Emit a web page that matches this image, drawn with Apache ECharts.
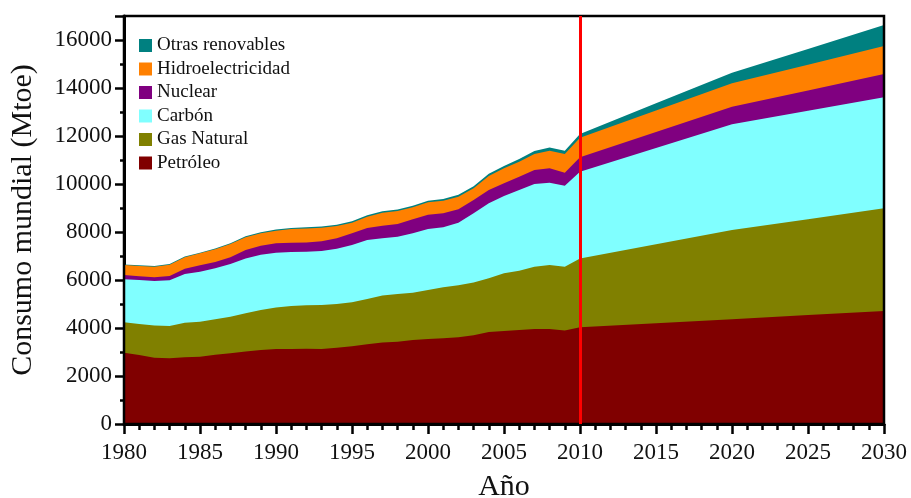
<!DOCTYPE html>
<html lang="es">
<head>
    <meta charset="UTF-8" />
    <title>Consumo mundial de energía</title>
</head>
<body style="margin:0">
<div id="main" style="width:911px;height:498px"></div>
<script src="https://cdn.jsdelivr.net/npm/echarts@6/dist/echarts.min.js"></script>
<script>
  // años (histórico anual + proyección cada 5 años)
  var anios = [1980, 1981, 1982, 1983, 1984, 1985, 1986, 1987, 1988, 1989,
    1990, 1991, 1992, 1993, 1994, 1995, 1996, 1997, 1998, 1999,
    2000, 2001, 2002, 2003, 2004, 2005, 2006, 2007, 2008, 2009,
    2010, 2015, 2020, 2025, 2030];

  // Mtoe
  var petroleo = [2970, 2875, 2765, 2740, 2780, 2805, 2890, 2945, 3025, 3080,
    3125, 3125, 3140, 3125, 3180, 3235, 3320, 3400, 3430, 3500,
    3540, 3570, 3610, 3695, 3830, 3875, 3915, 3960, 3960, 3900,
    4030, 4195, 4360, 4540, 4710];
  var gasNatural = [1270, 1290, 1335, 1345, 1440, 1460, 1470, 1525, 1585, 1670,
    1725, 1790, 1805, 1835, 1820, 1835, 1890, 1950, 1985, 1970,
    2045, 2125, 2170, 2205, 2240, 2405, 2475, 2590, 2660, 2655,
    2870, 3290, 3720, 3990, 4275];
  var carbon = [1790, 1835, 1860, 1900, 2030, 2080, 2125, 2195, 2290, 2305,
    2290, 2250, 2235, 2250, 2305, 2390, 2455, 2385, 2390, 2475,
    2540, 2500, 2610, 2880, 3125, 3220, 3360, 3450, 3435, 3375,
    3615, 4015, 4405, 4520, 4625];
  var nuclear = [180, 155, 150, 180, 220, 265, 265, 280, 350, 375,
    390, 390, 385, 400, 430, 485, 500, 530, 530, 585,
    595, 585, 555, 555, 555, 530, 555, 585, 600, 540,
    595, 665, 735, 850, 975];
  var hidro = [415, 430, 445, 475, 475, 500, 530, 555, 530, 515,
    525, 570, 585, 570, 515, 445, 475, 540, 540, 500,
    515, 525, 525, 485, 585, 625, 625, 665, 735, 780,
    820, 895, 975, 1070, 1165];
  var otras = [25, 25, 25, 30, 30, 30, 35, 35, 40, 40,
    45, 45, 45, 50, 50, 55, 55, 60, 60, 65,
    70, 75, 80, 85, 95, 100, 110, 120, 130, 140,
    155, 300, 445, 660, 875];

  var nombres = ["Petróleo", "Gas Natural", "Carbón", "Nuclear", "Hidroelectricidad", "Otras renovables"];
  var colores = ["#800000", "#808000", "#80ffff", "#800080", "#ff8000", "#008080"];
  var valores = [petroleo, gasNatural, carbon, nuclear, hidro, otras];

  var fuente = "Liberation Serif";
  var myChart = echarts.init(document.getElementById("main"));

  // apilado a mano: cada serie se dibuja hasta su total acumulado,
  // las de abajo encima de las de arriba
  var acumulado = anios.map(function () { return 0; });
  var series = nombres.map(function (n, i) {
    acumulado = acumulado.map(function (v, j) { return v + valores[i][j]; });
    return {
      name: n,
      type: "line",
      showSymbol: false,
      lineStyle: { width: 0 },
      areaStyle: { color: colores[i], opacity: 1 },
      itemStyle: { color: colores[i] },
      data: anios.map(function (a, j) { return [a, acumulado[j]]; }),
      z: 2 + (nombres.length - i) * 0.1
    };
  });
  // línea roja en 2010
  series[0].markLine = {
    silent: true,
    symbol: "none",
    label: { show: false },
    lineStyle: { color: "#ff0000", width: 3, type: "solid" },
    data: [{ xAxis: 2010 }]
  };

  var option = {
    animation: false,
    backgroundColor: "#fff",
    textStyle: { fontFamily: fuente },
    grid: { left: 124, right: 27, top: 16, bottom: 74, outerBoundsMode: "none",
      show: true, borderColor: "#000", borderWidth: 2.5, z: 5 },
    legend: {
      orient: "vertical",
      left: 139,
      top: 36,
      padding: 0,
      itemWidth: 13,
      itemHeight: 13,
      itemGap: 4.5,
      icon: "rect",
      data: nombres.slice().reverse(),
      textStyle: { fontFamily: fuente, fontSize: 19, color: "#111", lineHeight: 19 }
    },
    xAxis: {
      type: "value",
      min: 1980,
      max: 2030,
      interval: 5,
      name: "Año",
      nameLocation: "middle",
      nameGap: 48,
      nameTextStyle: { fontFamily: fuente, fontSize: 30, color: "#111" },
      axisLine: { lineStyle: { color: "#000", width: 3 } },
      axisTick: { inside: false, length: 10, lineStyle: { color: "#000", width: 2.5 } },
      minorTick: { show: true, splitNumber: 5, length: 6, lineStyle: { color: "#000", width: 2.5 } },
      splitLine: { show: false },
      axisLabel: { fontFamily: fuente, fontSize: 23, color: "#111", margin: 17,
        formatter: function (v) { return String(v); } }
    },
    yAxis: {
      type: "value",
      min: 0,
      max: 17000,
      interval: 2000,
      name: "Consumo mundial (Mtoe)",
      nameLocation: "middle",
      nameGap: 86,
      nameTextStyle: { fontFamily: fuente, fontSize: 30, color: "#111" },
      axisLine: { show: true, lineStyle: { color: "#000", width: 3 } },
      axisTick: { inside: false, length: 9, lineStyle: { color: "#000", width: 2.5 } },
      minorTick: { show: true, splitNumber: 2, length: 4, lineStyle: { color: "#000", width: 2.5 } },
      splitLine: { show: false },
      axisLabel: { fontFamily: fuente, fontSize: 23, color: "#111", margin: 12, showMaxLabel: false,
        formatter: function (v) { return String(v); } }
    },
    series: series
  };
  myChart.setOption(option);
</script>
</body>
</html>
